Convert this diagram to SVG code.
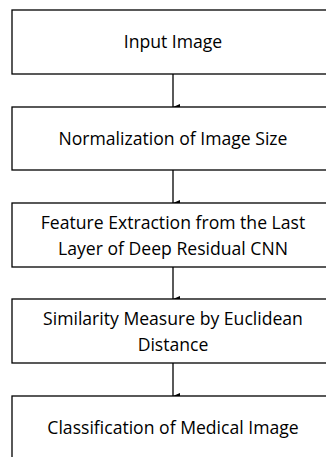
<svg xmlns="http://www.w3.org/2000/svg" width="326" height="457" viewBox="0 0 326 457">
<defs>
<marker id="ah" markerWidth="6" markerHeight="7" refX="3" refY="7" orient="auto" markerUnits="userSpaceOnUse" viewBox="0 0 6 7">
<path d="M0,0 L6,0 L3,7 Z" fill="#000"/>
</marker>
<style>
.box{fill:#fff;stroke:#000;stroke-width:1.3}
.t{font-family:"Open Sans","Liberation Sans",sans-serif;font-size:17.6px;fill:#000;text-anchor:middle}
.c{stroke:#000;stroke-width:1.3;fill:none}
</style>
</defs>
<rect width="326" height="457" fill="#fff"/>
<g id="connectors">
<line class="c" x1="173" y1="74" x2="173" y2="107" marker-end="url(#ah)"/>
<line class="c" x1="173" y1="170" x2="173" y2="203" marker-end="url(#ah)"/>
<line class="c" x1="173" y1="267" x2="173" y2="299" marker-end="url(#ah)"/>
<line class="c" x1="173" y1="363" x2="173" y2="396" marker-end="url(#ah)"/>
</g>
<g id="n1"><rect class="box" x="12" y="10" width="330" height="64"/><text class="t" x="173" y="48">Input Image</text></g>
<g id="n2"><rect class="box" x="12" y="107" width="330" height="63"/><text class="t" x="173" y="145">Normalization of Image Size</text></g>
<g id="n3"><rect class="box" x="12" y="203" width="330" height="64"/><text class="t" x="173" y="229">Feature Extraction from the Last</text><text class="t" x="173" y="255">Layer of Deep Residual CNN</text></g>
<g id="n4"><rect class="box" x="12" y="299" width="330" height="64"/><text class="t" x="173" y="325">Similarity Measure by Euclidean</text><text class="t" x="173" y="351">Distance</text></g>
<g id="n5"><rect class="box" x="12" y="396" width="330" height="80"/><text class="t" x="173" y="434">Classification of Medical Image</text></g>
</svg>
